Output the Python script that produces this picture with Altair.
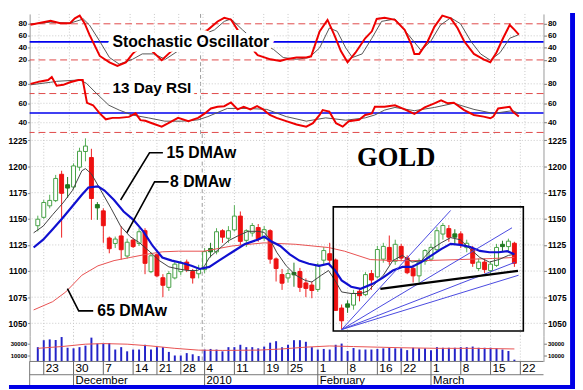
import altair as alt
import pandas as pd

FONT = "Liberation Sans"
SERIF = "Liberation Serif"

# ---------------- data ----------------
# trading-day index: 0 = Mon 23 Nov 2009 ... 79 = Fri 19 Mar 2010
day = list(range(-1, 80))
open_ = [1144, 1152, 1163, 1168, 1192, 1180, 1181, 1200, 1215, 1208,
         1163, 1157, 1131, 1127, 1133, 1115, 1129, 1127, 1138, 1100,
         1115, 1093, 1085, 1094, 1100, 1108, 1099, 1098, 1102, 1119,
         1119, 1138, 1132, 1140, 1152, 1130, 1137, 1141, 1132, 1138,
         1111, 1096, 1094, 1097, 1099, 1088, 1086, 1083, 1111, 1116,
         1110, 1064, 1066, 1068, 1080, 1078, 1097, 1095, 1112, 1122,
         1110, 1123, 1112, 1102, 1096, 1110, 1112, 1121, 1136, 1140,
         1133, 1135, 1123, 1121, 1103, 1108, 1101, 1106, 1124, 1124,
         1126]
high_ = [1153, 1168, 1173, 1192, 1196, 1190, 1203, 1218, 1227, 1217,
         1166, 1160, 1133, 1133, 1143, 1131, 1131, 1141, 1141, 1118,
         1117, 1097, 1100, 1109, 1110, 1111, 1102, 1106, 1122, 1127,
         1141, 1140, 1143, 1163, 1157, 1140, 1146, 1145, 1143, 1140,
         1113, 1102, 1102, 1108, 1103, 1093, 1090, 1108, 1123, 1127,
         1112, 1068, 1072, 1082, 1083, 1099, 1101, 1124, 1127, 1134,
         1130, 1126, 1115, 1106, 1112, 1121, 1126, 1142, 1146, 1144,
         1140, 1138, 1130, 1124, 1112, 1112, 1109, 1126, 1129, 1131,
         1128]
low_ = [1138, 1150, 1160, 1166, 1132, 1170, 1178, 1196, 1205, 1149,
        1149, 1127, 1117, 1122, 1111, 1112, 1122, 1124, 1097, 1098,
        1094, 1075, 1081, 1092, 1096, 1099, 1088, 1093, 1098, 1113,
        1116, 1127, 1127, 1138, 1125, 1123, 1133, 1128, 1129, 1107,
        1090, 1082, 1089, 1085, 1080, 1075, 1074, 1080, 1106, 1105,
        1062, 1044, 1060, 1063, 1071, 1076, 1082, 1093, 1108, 1106,
        1106, 1110, 1097, 1089, 1089, 1106, 1110, 1118, 1130, 1128,
        1125, 1122, 1118, 1104, 1100, 1098, 1097, 1104, 1119, 1119,
        1104]
close_ = [1149, 1165, 1167, 1188, 1175, 1182, 1200, 1214, 1219, 1170,
          1161, 1144, 1122, 1130, 1121, 1127, 1124, 1137, 1108, 1114,
          1096, 1087, 1097, 1106, 1107, 1102, 1094, 1102, 1118, 1121,
          1137, 1133, 1138, 1152, 1129, 1138, 1143, 1131, 1139, 1112,
          1103, 1089, 1097, 1098, 1085, 1084, 1082, 1105, 1119, 1111,
          1063, 1053, 1068, 1078, 1077, 1096, 1092, 1120, 1123, 1110,
          1125, 1113, 1099, 1096, 1108, 1119, 1122, 1138, 1143, 1133,
          1135, 1126, 1126, 1108, 1108, 1102, 1106, 1122, 1125, 1128,
          1108]
volume = [24000, 35700, 37000, 36000, 41000, 23000, 22000, 24000, 26500, 40000,
          30000, 30000, 31000, 20000, 24000, 17000, 20000, 20000, 28000, 20000,
          24000, 24000, 16000, 10000, 10000, 14000, 12000, 9000, 20000, 21000,
          20000, 17000, 24000, 24000, 28000, 24000, 24000, 22000, 25000, 31500,
          34000, 24000, 28000, 35700, 35700, 33000, 24000, 20000, 21000, 20000,
          28000, 30000, 17500, 22500, 20000, 20000, 20000, 21000, 22000, 23000,
          22000, 22000, 19000, 23000, 22000, 22000, 19000, 24000, 23000, 23000,
          23000, 24000, 24000, 25000, 23000, 23000, 23000, 22000, 20000, 17500,
          3000]

ma8_x = [-1.7, -0.1, 1.5, 3.2, 4.8, 6.4, 7.0, 8.0, 9.6, 11.3,
         12.9, 14.5, 16.1, 17.7, 19.4, 21.0, 22.6, 24.2, 25.8, 26.9,
         27.8, 29.4, 31.0, 32.7, 34.3, 35.9, 37.0, 38.0, 39.1, 40.7,
         42.3, 43.9, 45.0, 46.6, 47.8, 48.9, 50.0, 51.6, 53.2, 54.5,
         55.3, 57.0, 58.6, 60.2, 61.8, 63.4, 65.1, 66.7, 68.3, 69.9,
         71.6, 73.2, 74.8, 76.4, 78.0, 79.0]
ma8_y = [1136.6, 1143, 1154, 1165, 1177, 1196, 1198, 1193, 1177, 1160,
         1143, 1133, 1127, 1119, 1110, 1104, 1102, 1100.5, 1100.5, 1104,
         1113, 1121, 1129, 1134, 1138, 1138, 1137, 1130, 1118, 1105,
         1096, 1091, 1089.5, 1096, 1100.5, 1091, 1080, 1078.5, 1078.5, 1081,
         1086, 1096, 1110, 1115, 1108.6, 1110, 1121, 1127, 1132, 1130,
         1121, 1113, 1108.6, 1111, 1115, 1116]
ma15_x = [-1.7, -0.1, 1.5, 3.2, 4.8, 6.4, 7.5, 9.1, 10.2, 11.8,
          13.4, 15.05, 16.7, 18.3, 19.9, 21.5, 23.1, 24.8, 26.2, 27.8,
          29.4, 31.6, 33.7, 35.9, 37.0, 38.0, 39.7, 41.3, 42.9, 44.5,
          46.2, 47.8, 48.9, 50.0, 51.6, 53.2, 55.3, 57.0, 58.6, 60.2,
          61.8, 63.4, 65.1, 66.7, 68.3, 69.9, 71.6, 73.2, 74.8, 76.4,
          77.8, 79.0]
ma15_y = [1122.5, 1130, 1140, 1151, 1162, 1173, 1180, 1181, 1177, 1168,
          1157, 1149, 1138, 1124, 1113, 1110, 1108, 1105, 1102, 1104,
          1110, 1118, 1125.6, 1130, 1133, 1129, 1124, 1116, 1110, 1107,
          1105, 1107, 1100.5, 1091, 1085, 1083, 1088, 1094, 1100.5, 1104,
          1104, 1108.6, 1115, 1121, 1126, 1125, 1123, 1119.3, 1118, 1118,
          1119, 1116]
ma65_x = [-1.7, 1.5, 3.7, 6.4, 9.1, 11.8, 14.5, 17.2, 19.9, 22.6, 26.9,
          31.6, 37.0, 42.3, 47.8, 50.5, 54.8, 58.6, 63.9, 69.9, 75.3, 79.0]
ma65_y = [1062.8, 1070.7, 1080, 1096, 1105, 1110, 1113, 1116, 1118.4, 1119, 1119,
          1124, 1127, 1125.6, 1122.5, 1119, 1111, 1110, 1110, 1111, 1112, 1113]

vma_x = [-1, 3, 7, 10, 14, 18, 22, 26, 30, 36, 40, 44, 48, 52, 56, 60, 66, 72, 79]
vma_y = [22000, 25000, 29000, 30000, 29000, 26000, 22000, 19000, 18500, 19000,
         21000, 24000, 26000, 25000, 24000, 23000, 22000, 22000, 21000]

stk_x = [-1.4, 1.9, 3.5, 5.1, 5.9, 6.7, 7.5, 8.3, 10, 11.6,
         12.9, 14.3, 15.4, 16.2, 17.3, 18.3, 20.2, 22.1, 22.9, 24.5,
         26, 27.8, 29.4, 30.5, 31.6, 32.7, 34.5, 36, 38.1, 39.7,
         40.7, 42.4, 44.0, 44.8, 46.2, 47.5, 48.6, 49.7, 50.8, 52.1,
         53.7, 54.8, 55.6, 56.9, 58.6, 60.2, 61.3, 61.8, 62.6, 64.0,
         65.1, 66.4, 67.8, 68.9, 70.0, 71.6, 73.2, 74.3, 75.3, 76.4,
         77.5, 78.3, 79.0]
stk_y = [78.4, 85, 81, 81, 89, 93.6, 81, 62, 26.6, 16,
         10, 16, 30, 37.5, 44, 37.5, 19.5, 37.5, 45, 55,
         62, 70, 83.8, 90, 87, 70, 45, 28, 21, 18.4,
         21, 24, 24, 26, 67.5, 86.5, 62, 34.7, 16, 32,
         56, 67.5, 88, 90, 86.5, 70, 45.7, 30, 30, 51,
         75, 93.6, 89, 73, 51, 30, 21, 16, 32, 56,
         78, 70, 62]
std_x = [-1.4, 1.9, 5.1, 7.3, 8.3, 10, 11.6, 13.2, 15.4, 17.0,
         18.9, 20.8, 22.9, 25, 27, 28.9, 30.5, 31.6, 33.5, 35.5,
         38.6, 40.2, 42.4, 44.5, 46.2, 47.8, 49.1, 50.5, 51.6, 53.2,
         54.8, 56.4, 58.6, 60.8, 62.9, 64.5, 66.1, 67.8, 69.4, 71.1,
         72.7, 74.3, 75.9, 77.5, 79.0]
std_y = [79.5, 82.7, 81, 88, 78, 51, 24, 13, 21, 30,
         30, 21, 35, 50, 62, 70, 84, 88, 70, 52,
         37.5, 24, 21, 24, 40, 73, 67.5, 40, 24, 30,
         56, 84, 88, 62, 35.7, 51, 78, 90, 80, 51,
         30, 19.5, 32, 56, 62]

rsk_x = [-1.4, 0.2, 1.5, 2.1, 2.9, 4.0, 5.1, 6.5, 7.2, 7.9,
         8.9, 10, 11, 12.1, 13.2, 14.8, 15.9, 16.7, 17.5, 18.6,
         20.2, 21.3, 22.9, 24.6, 26.2, 27.3, 28.3, 29.4, 30.5, 31.6,
         32.7, 33.7, 34.8, 35.9, 36.9, 38.0, 39.1, 40.7, 42.4, 44.0,
         45.1, 46.2, 46.7, 47.8, 48.9, 50.0, 51.0, 52.7, 53.7, 54.8,
         55.3, 56.9, 58.6, 60.2, 61.8, 63.5, 65.1, 66.2, 67.3, 68.3,
         70.0, 71.6, 73.2, 74.3, 74.8, 75.6, 77.5, 78.0, 79.0]
rsk_y = [80, 82.5, 84, 87, 78, 79, 81.6, 84, 84, 60.4,
         58, 49.6, 43.5, 45, 45, 46, 49.6, 42.6, 42, 39.5,
         36, 39.5, 45, 41.6, 45, 49.6, 54.7, 56.4, 57, 60.8,
         53.7, 56.4, 53.7, 57, 53.7, 48, 45, 41.6, 38.2, 36,
         39.5, 48, 53, 51.4, 39.5, 36, 41.6, 43, 48, 49.6,
         56.4, 56.4, 58, 53.7, 49, 55.7, 60, 63, 60, 60.5,
         53, 48, 46.3, 44.6, 46.3, 54.7, 56.4, 51.4, 46.3]
rsd_x = [-1.4, 1.9, 2.9, 6.7, 7.8, 9.4, 11.5, 13.2, 15.3, 18,
         20.7, 23.4, 24.6, 26.2, 27.8, 31.0, 34.3, 37.5, 40.7, 44.0,
         47.2, 50.5, 53.7, 55.3, 56.9, 58.6, 61.8, 65.1, 68.3, 71.6,
         74.8, 78.0, 79.0]
rsd_y = [79, 81.6, 82.6, 84, 80.6, 70.5, 58, 53, 48, 45,
         41.6, 41.6, 42, 43, 46.3, 54.7, 54.7, 53.7, 46.3, 41.6,
         45, 42.6, 45, 48, 53, 55.7, 52.4, 55.7, 60, 53.7,
         49.6, 52.4, 49.6]

fan_x0, fan_y0 = 50, 1044
fan_x1 = [68.3, 78.6, 79.1, 79.7]
fan_y1 = [1158, 1141.4, 1108.4, 1096]
trend_x = [56.5, 79.6]
trend_y = [1083, 1100.2]
box_x = [48.6, 80.5]
box_y = [1042.7, 1161.4]

week_ticks = [0, 5, 10, 15, 19, 23, 27, 32, 37, 41, 46, 51, 56, 60, 65, 70, 75, 80]
week_labels = ["23", "30", "7", "14", "21", "28", "4", "11", "19", "25",
               "1", "8", "16", "22", "1", "8", "15", "22"]
month_pos = [5, 27, 46, 65]
month_labels = ["December", "2010", "February", "March"]

# ---------------- helpers ----------------
W = 522
X_DOM = [-1.54, 83.06]
H_ST, H_RSI, H_PX, H_VOL = 55, 67, 205, 26
D_ST = [6.43, 96.35]
D_RSI = [28.35, 96.2]
D_PX = [1038.0, 1231.1]
D_VOL = [0, 43000]


def X(field):
    return alt.X(f"{field}:Q", scale=alt.Scale(domain=X_DOM, nice=False, zero=False), axis=None)


def Y(field, dom, axis=None):
    return alt.Y(f"{field}:Q", scale=alt.Scale(domain=dom, nice=False, zero=False), axis=axis)


def axis(orient, values, size=8, tick=3):
    return alt.Axis(orient=orient, values=values, format="d", title=None, grid=False,
                    labelFont=FONT, labelFontWeight="bold", labelFontSize=size,
                    labelColor="black", tickSize=tick, labelPadding=1,
                    tickColor="#777", domainColor="#999")


def axes_layers(values, dom, size=8):
    df = pd.DataFrame({"v": values})
    left = alt.Chart(df).mark_rule(opacity=0).encode(y=Y("v", dom, axis("left", values, size, 2)))
    right = alt.Chart(df).mark_rule(opacity=0).encode(y=Y("v", dom, axis("right", values, size, 3)))
    return [left, right]


def vgrid():
    g = alt.Chart(pd.DataFrame({"t": week_ticks})).mark_rule(
        color="#c8c8c8", strokeDash=[1, 2], strokeWidth=1).encode(x=X("t"))
    yb = alt.Chart(pd.DataFrame({"t": [26.6]})).mark_rule(
        color="#9a9a9a", strokeDash=[4, 3], strokeWidth=1).encode(x=X("t"))
    return [g, yb]


def hlines(values, dom, color, dash=None, width=1.0):
    kw = dict(color=color, strokeWidth=width)
    if dash:
        kw["strokeDash"] = dash
    return alt.Chart(pd.DataFrame({"v": values})).mark_rule(**kw).encode(y=Y("v", dom))


def series(xs, ys, dom, color, width):
    df = pd.DataFrame({"x": xs, "y": ys})
    return alt.Chart(df).mark_line(color=color, strokeWidth=width).encode(x=X("x"), y=Y("y", dom))


def label(x, y, text, dom, size, font=FONT, weight="bold", halo=7):
    df = pd.DataFrame({"x": [x], "y": [y], "t": [text]})
    base = alt.Chart(df).encode(x=X("x"), y=Y("y", dom), text="t:N")
    h = base.mark_text(align="left", baseline="middle", font=font, fontSize=size,
                       fontWeight=weight, fill="white", stroke="white", strokeOpacity=1,
                       strokeWidth=halo, strokeJoin="round")
    t = base.mark_text(align="left", baseline="middle", font=font, fontSize=size,
                       fontWeight=weight, color="black")
    return [h, t]


# ---------------- stochastic panel ----------------
st_layers = vgrid() + [
    hlines([40, 60], D_ST, "#c8c8c8", [1, 2]),
    hlines([20, 80], D_ST, "#e04848", [7, 4]),
    hlines([50], D_ST, "#0000ee", None, 1.6),
    series(std_x, std_y, D_ST, "#555555", 1),
    series(stk_x, stk_y, D_ST, "#ee0000", 2),
] + label(12.1, 50, "Stochastic Oscillator", D_ST, 16, halo=10) + axes_layers([20, 40, 60, 80], D_ST)
stoch = alt.layer(*st_layers).resolve_axis(y="independent").properties(width=W, height=H_ST)

# ---------------- RSI panel ----------------
rsi_layers = vgrid() + [
    hlines([40, 60, 80], D_RSI, "#c8c8c8", [1, 2]),
    hlines([30, 70], D_RSI, "#e04848", [7, 4]),
    hlines([50], D_RSI, "#0000ee", None, 1.6),
    series(rsd_x, rsd_y, D_RSI, "#555555", 1),
    series(rsk_x, rsk_y, D_RSI, "#ee0000", 2),
] + label(12.1, 76, "13 Day RSI", D_RSI, 15.5, halo=8) + axes_layers([40, 60, 80], D_RSI)
rsi = alt.layer(*rsi_layers).resolve_axis(y="independent").properties(width=W, height=H_RSI)

# ---------------- price panel ----------------
kind = []
for o, c in zip(open_, close_):
    if abs(c - o) <= 2:
        kind.append("doji")
    elif c > o:
        kind.append("up")
    else:
        kind.append("down")
cdf = pd.DataFrame({"i": day, "o": open_, "h": high_, "l": low_, "c": close_, "k": kind})
cdf["bt"] = cdf[["o", "c"]].max(axis=1) + 0.6
cdf["bb"] = cdf[["o", "c"]].min(axis=1) - 0.6

kinds = ["up", "down", "doji"]
wick = alt.Chart(cdf).mark_rule(strokeWidth=1).encode(
    x=X("i"), y=Y("l", D_PX), y2="h:Q",
    color=alt.Color("k:N", scale=alt.Scale(domain=kinds, range=["#55b055", "#ee2020", "#1f7a1f"]), legend=None))
body = alt.Chart(cdf).mark_bar(size=4, strokeWidth=1).encode(
    x=X("i"), y=Y("bb", D_PX), y2="bt:Q",
    fill=alt.Fill("k:N", scale=alt.Scale(domain=kinds, range=["#ffffff", "#ee1111", "#1f7a1f"]), legend=None),
    stroke=alt.Stroke("k:N", scale=alt.Scale(domain=kinds, range=["#44a044", "#ee1111", "#1f7a1f"]), legend=None))

fan_df = pd.DataFrame({"x": [fan_x0] * len(fan_x1), "y": [fan_y0] * len(fan_x1), "x2": fan_x1, "y2": fan_y1})
fan = alt.Chart(fan_df).mark_rule(color="#4848e0", strokeWidth=1).encode(
    x=X("x"), y=Y("y", D_PX), x2="x2:Q", y2="y2:Q")
trend = alt.Chart(pd.DataFrame({"x": [trend_x[0]], "y": [trend_y[0]], "x2": [trend_x[1]], "y2": [trend_y[1]]})).mark_rule(
    color="black", strokeWidth=2.2).encode(x=X("x"), y=Y("y", D_PX), x2="x2:Q", y2="y2:Q")
box = alt.Chart(pd.DataFrame({"x": [box_x[0]], "x2": [box_x[1]], "y": [box_y[0]], "y2": [box_y[1]]})).mark_rect(
    fill=None, stroke="black", strokeWidth=1.6).encode(x=X("x"), x2="x2:Q", y=Y("y", D_PX), y2="y2:Q")

lead15 = series([20.0, 17.75, 12.9], [1213.2, 1213.2, 1168], D_PX, "black", 1.6)
lead8 = series([21.0, 18.6, 13.97], [1185.3, 1185.3, 1136.7], D_PX, "black", 1.6)
lead65 = series([3.97, 5.87, 8.3], [1083.2, 1061.9, 1061.9], D_PX, "black", 1.6)

px_layers = vgrid() + [
    hlines([1050, 1075, 1100, 1125, 1150, 1175, 1200, 1225], D_PX, "#c8c8c8", [1, 2]),
    wick, body,
    series(ma65_x, ma65_y, D_PX, "#e85050", 1),
    series(ma8_x, ma8_y, D_PX, "#404040", 1),
    series(ma15_x, ma15_y, D_PX, "#1010d0", 2.2),
    fan, trend, box, lead15, lead8, lead65,
] + label(20.6, 1213.2, "15 DMAw", D_PX, 16, halo=4) \
  + label(21.2, 1185.3, "8 DMAw", D_PX, 16, halo=4) \
  + label(9.0, 1061.9, "65 DMAw", D_PX, 16, halo=4) \
  + label(52.6, 1208.5, "GOLD", D_PX, 27, font=SERIF, halo=6) \
  + axes_layers([1050, 1075, 1100, 1125, 1150, 1175, 1200, 1225], D_PX, 8.5)
price = alt.layer(*px_layers).resolve_axis(y="independent").properties(width=W, height=H_PX)

# ---------------- volume panel + date axis ----------------
vdf = pd.DataFrame({"i": day, "v": volume})
vbars = alt.Chart(vdf).mark_bar(size=2, color="#2323c8").encode(x=X("i"), y=Y("v", D_VOL), y2=alt.datum(0))
vma = series(vma_x, vma_y, D_VOL, "#e85050", 1)

wk = pd.DataFrame({"t": week_ticks, "lab": week_labels})
mo = pd.DataFrame({"t": month_pos, "lab": month_labels})
one = pd.DataFrame({"a": [0]})
day_sep = alt.Chart(wk).mark_rule(color="#666", strokeWidth=1).encode(
    x=X("t"), y=alt.value(H_VOL), y2=alt.value(H_VOL + 13.5))
day_txt = alt.Chart(wk).mark_text(align="left", baseline="middle", font=FONT, fontSize=12, dx=2).encode(
    x=X("t"), y=alt.value(H_VOL + 7), text="lab:N")
mon_sep = alt.Chart(mo).mark_rule(color="#666", strokeWidth=1).encode(
    x=X("t"), y=alt.value(H_VOL + 13.5), y2=alt.value(H_VOL + 26))
mon_txt = alt.Chart(mo).mark_text(align="left", baseline="middle", font=FONT, fontSize=11.5, dx=2).encode(
    x=X("t"), y=alt.value(H_VOL + 20), text="lab:N")
base_line = alt.Chart(one).mark_rule(color="#777").encode(
    x=alt.value(0), x2=alt.value(W), y=alt.value(H_VOL))
mid_line = alt.Chart(one).mark_rule(color="#777").encode(
    x=alt.value(0), x2=alt.value(W), y=alt.value(H_VOL + 13.5))
left_line = alt.Chart(one).mark_rule(color="#777").encode(
    x=alt.value(0), y=alt.value(H_VOL), y2=alt.value(H_VOL + 26))
bounds_rect = alt.Chart(one).mark_rect(opacity=0).encode(
    x=alt.value(-21), x2=alt.value(554), y=alt.value(-328), y2=alt.value(54))
border_r = alt.Chart(one).mark_rect(color="#0000e6").encode(
    x=alt.value(549), x2=alt.value(554), y=alt.value(-328), y2=alt.value(54))
border_b = alt.Chart(one).mark_rect(color="#0000e6").encode(
    x=alt.value(-21), x2=alt.value(554), y=alt.value(50), y2=alt.value(54))

vol_layers = vgrid() + [vbars, vma, base_line, mid_line, left_line, day_sep, day_txt,
                        mon_sep, mon_txt, bounds_rect, border_r, border_b] \
    + axes_layers([10000, 30000], D_VOL, 6)
vol = alt.layer(*vol_layers).resolve_axis(y="independent").properties(width=W, height=H_VOL)

chart = alt.vconcat(stoch, rsi, price, vol, spacing=0, bounds="flush").properties(
    padding=0, background="white").configure_view(stroke=None)

chart.save("out.html", embed_options={"renderer": "svg", "actions": False})
